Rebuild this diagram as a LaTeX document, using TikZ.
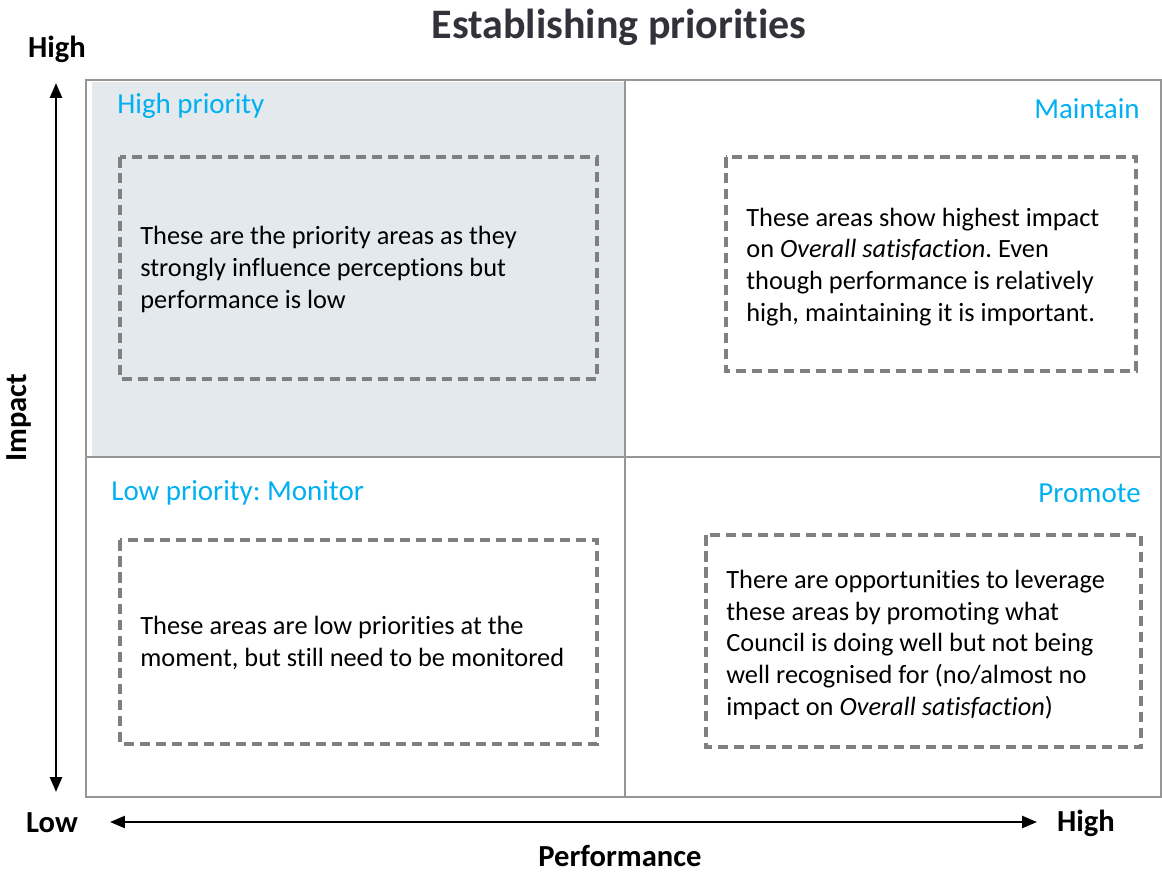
\documentclass[tikz,border=0pt]{standalone}
\usepackage{fontspec}
\setmainfont{Carlito}[Ligatures=NoCommon]
\frenchspacing
\usetikzlibrary{arrows.meta}

\definecolor{framegrey}{RGB}{150,150,150}
\definecolor{dashgrey}{RGB}{128,128,128}
\definecolor{quadfill}{RGB}{228,233,237}
\definecolor{labelcyan}{RGB}{0,176,240}
\definecolor{titlegrey}{RGB}{50,50,58}

\tikzset{
  dashbox/.style={draw=dashgrey, line width=0.075cm, dash pattern=on 0.21cm off 0.11cm},
  quadlabel/.style={text=labelcyan, font=\fontsize{16.5}{20}\selectfont, inner sep=0},
  boxtext/.style={font=\fontsize{15}{18}\selectfont, align=left, inner sep=0, anchor=base west},
  axislabel/.style={font=\bfseries\fontsize{17.4}{21}\selectfont, inner sep=0, anchor=base},
  axisarrow/.style={line width=0.05cm, {Triangle[length=0.3cm,width=0.24cm]}-{Triangle[length=0.3cm,width=0.24cm]}}
}

\begin{document}
\begin{tikzpicture}[x=0.02cm,y=-0.02cm]
  \useasboundingbox (0,0) rectangle (1162,872);

  % Title
  \node (title) [anchor=base, inner sep=0, text=titlegrey, font=\bfseries\fontsize{23.9}{28}\selectfont] at (619,38) {Establishing priorities};

  % Shading of the high priority quadrant
  \fill [quadfill] (92,82) rectangle (625,457);

  % Frame and quadrant dividers
  \draw [framegrey, line width=0.05cm] (86,80) rectangle (1161,797);
  \draw [framegrey, line width=0.05cm] (625,80) -- (625,797);
  \draw [framegrey, line width=0.05cm] (86,457) -- (1161,457);

  % Quadrant names
  \node (hp) [quadlabel, anchor=base west] at (117,113) {High priority};
  \node (mt) [quadlabel, anchor=base east] at (1140,118) {Maintain};
  \node (lp) [quadlabel, anchor=base west] at (111,500) {Low priority: Monitor};
  \node (pr) [quadlabel, anchor=base east] at (1141,502) {Promote};

  % Dashed boxes
  \draw [dashbox] (120,157) rectangle (597,379);
  \draw [dashbox] (726,157) rectangle (1136,371);
  \draw [dashbox] (120,540) rectangle (597,744);
  \draw [dashbox] (706,535) rectangle (1141,747);

  % Box texts (anchored on the baseline of the last line)
  \node (hptext) [boxtext] at (140,308) {These are the priority areas as they\\strongly influence perceptions but\\performance is low};
  \node (mttext) [boxtext] at (746,321) {These areas show highest impact\\on \textit{Overall satisfaction}. Even\\though performance is relatively\\high, maintaining it is important.};
  \node (lptext) [boxtext] at (140,666) {These areas are low priorities at the\\moment, but still need to be monitored};
  \node (prtext) [boxtext] at (726,715) {There are opportunities to leverage\\these areas by promoting what\\Council is doing well but not being\\well recognised for (no/almost no\\impact on \textit{Overall satisfaction})};

  % Axes
  \node (ihigh) [axislabel] at (57,57) {High};
  \node (plow) [axislabel] at (52,832) {Low};
  \node (phigh) [axislabel] at (1086,831) {High};
  \node (impact) [axislabel, rotate=90] at (27,418) {Impact};
  \node (perf) [axislabel] at (620,866) {Performance};

  \coordinate (itop) at (56,83);
  \coordinate (ibot) at (56,792);
  \coordinate (pleft) at (110,822);
  \coordinate (pright) at (1037,822);
  \draw [axisarrow] (ibot) -- (itop);
  \draw [axisarrow] (pleft) -- (pright);
\end{tikzpicture}
\end{document}
